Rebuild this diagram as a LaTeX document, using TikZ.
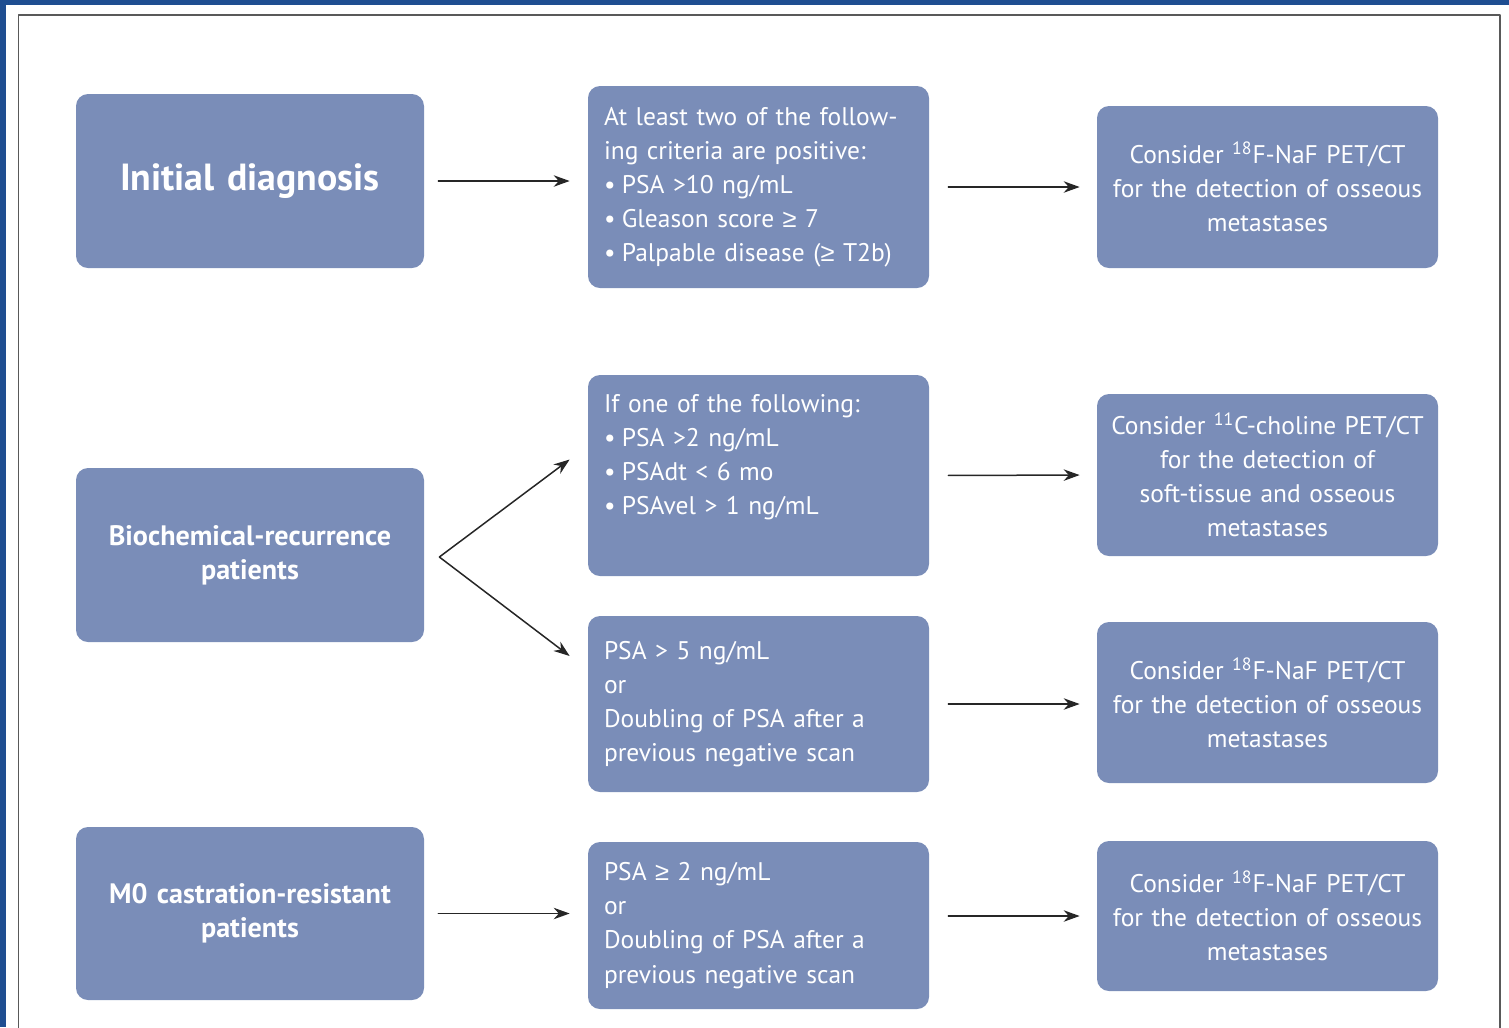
\documentclass[tikz,border=0pt]{standalone}
\usepackage{fontspec}
\setmainfont{PT Sans}
\newfontfamily\relfont{Liberation Sans}
\usetikzlibrary{arrows.meta,calc,positioning}

\definecolor{boxblue}{RGB}{122,141,184}
\definecolor{frameblue}{RGB}{31,78,145}

\newcommand{\gesign}{{\relfont ≥}}
\newcommand{\itm}{•\hspace{0.25em}}

\begin{document}
\begin{tikzpicture}[line cap=round, line join=round,
  box/.style={fill=boxblue, rounded corners=0.24cm, text=white,
    font=\fontsize{14.5}{19.4}\selectfont, inner xsep=0.32cm, inner ysep=0.1cm,
    minimum width=6.82cm},
  critbox/.style={box, align=left, text width=6.18cm},
  scanbox/.style={box, align=center, text width=6.5cm, inner xsep=0.16cm},
  groupbox/.style={box, align=center, text width=6.5cm, inner xsep=0.23cm,
    font=\bfseries\fontsize{16}{19.4}\selectfont},
  arr/.style={draw=black!85, line width=0.03cm,
    -{Stealth[length=0.32cm,width=0.23cm]},
    shorten <=0.28cm, shorten >=0.36cm},
]

\useasboundingbox (0,0) rectangle (30.18,-20.54);

% ---------------------------------------------------------
% Frame
% ---------------------------------------------------------
\fill[frameblue] (0,0) rectangle (30.18,-0.1);
\fill[frameblue] (0,0) rectangle (0.12,-20.54);
\draw[black!65, line width=0.04cm] (0.37,-21) -- (0.37,-0.3) -- (30.0,-0.3) -- (30.0,-21);

% ---------------------------------------------------------
% Patient groups
% ---------------------------------------------------------
\node[groupbox, minimum height=3.48cm, font=\bfseries\fontsize{21.5}{25}\selectfont]
  (init) at (5.0,-3.62) {Initial diagnosis};
\node[groupbox, minimum height=3.48cm] (bcr) at (5.0,-11.10)
  {Biochemical-recurrence\\patients};
\node[groupbox, minimum height=3.46cm] (mzero) at (5.0,-18.27)
  {M0 castration-resistant\\patients};

% ---------------------------------------------------------
% Criteria
% ---------------------------------------------------------
\node[critbox, minimum height=4.04cm] (critA) at (15.17,-3.74)
  {At least two of the follow-\\ing criteria are positive:\\
   \itm PSA >10 ng/mL\\\itm Gleason score \gesign{} 7\\\itm Palpable disease (\gesign{} T2b)};
\node[critbox, minimum height=4.02cm, text depth=2.9cm] (critB) at (15.17,-9.51)
  {If one of the following:\\\itm PSA >2 ng/mL\\\itm PSAdt < 6 mo\\\itm PSAvel > 1 ng/mL};
\node[critbox, minimum height=3.52cm] (critC) at (15.17,-14.08)
  {PSA > 5 ng/mL\\or\\Doubling of PSA after a\\previous negative scan};
\node[critbox, minimum height=3.34cm] (critD) at (15.17,-18.51)
  {PSA \gesign{} 2 ng/mL\\or\\Doubling of PSA after a\\previous negative scan};

% ---------------------------------------------------------
% Recommended imaging
% ---------------------------------------------------------
\node[scanbox, minimum height=3.24cm] (scanA) at (25.35,-3.74)
  {Consider \textsuperscript{18}F-NaF PET/CT\\for the detection of osseous\\metastases};
\node[scanbox, minimum height=3.24cm] (scanB) at (25.35,-9.50)
  {Consider \textsuperscript{11}C-choline PET/CT\\for the detection of\\soft-tissue and osseous\\metastases};
\node[scanbox, minimum height=3.22cm] (scanC) at (25.35,-14.05)
  {Consider \textsuperscript{18}F-NaF PET/CT\\for the detection of osseous\\metastases};
\node[scanbox, minimum height=3.0cm] (scanD) at (25.35,-18.32)
  {Consider \textsuperscript{18}F-NaF PET/CT\\for the detection of osseous\\metastases};

% ---------------------------------------------------------
% Arrows
% ---------------------------------------------------------
\coordinate (fork) at ($(bcr.east)+(0.3,-0.04)$);
\coordinate (forkB) at ($(critB.west)+(-0.36,0.32)$);
\coordinate (forkC) at ($(critC.west)+(-0.36,0.96)$);

\draw[arr] (init.east) -- (init.east -| critA.west);
\draw[arr, shorten <=0.38cm, shorten >=0.34cm] (critA.east) -- (scanA.west);
\draw[arr, shorten <=0pt, shorten >=0pt] (fork) -- (forkB);
\draw[arr, shorten <=0pt, shorten >=0pt] (fork) -- (forkC);
\draw[arr, shorten <=0.38cm, shorten >=0.34cm] (critB.east) -- (scanB.west);
\draw[arr, shorten <=0.38cm, shorten >=0.34cm] (critC.east) -- (critC.east -| scanC.west);
\draw[arr] (mzero.east) -- (mzero.east -| critD.west);
\draw[arr, shorten <=0.38cm, shorten >=0.34cm] (critD.east |- scanD.west) -- (scanD.west);

\end{tikzpicture}
\end{document}
